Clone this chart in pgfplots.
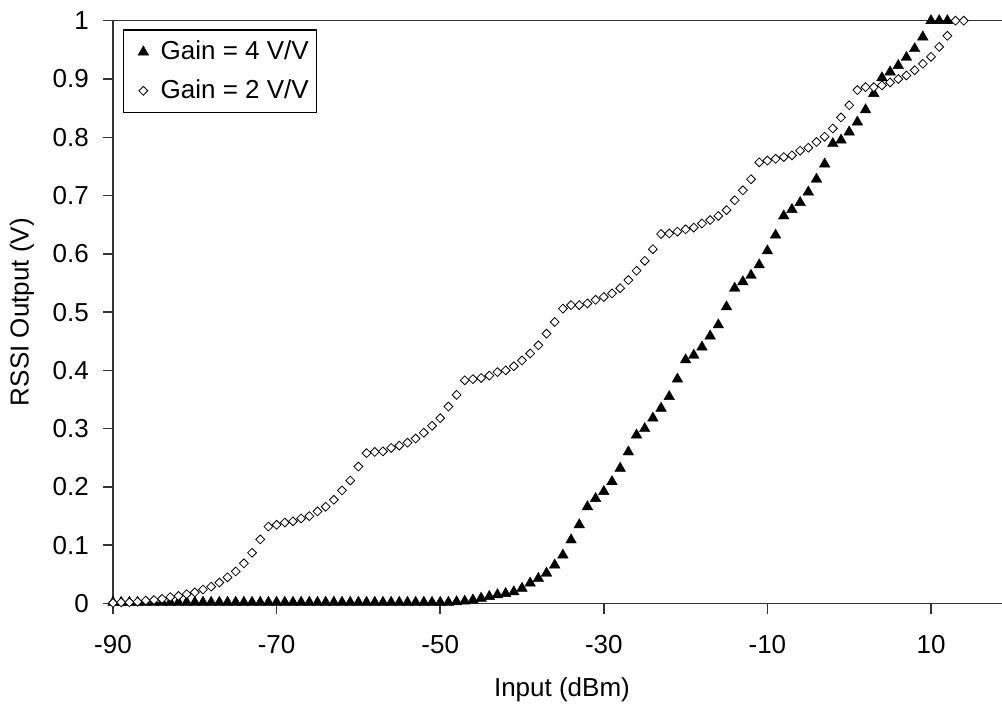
\documentclass[border=0pt]{standalone}
\usepackage{pgfplots}
\pgfplotsset{compat=1.18}
\usepackage{fontspec}
\setmainfont{Liberation Sans}
\pgfplotstableread{
x y
-90 0.002
-89 0.002
-88 0.002
-87 0.002
-86 0.002
-85 0.002
-84 0.002
-83 0.002
-82 0.002
-81 0.002
-80 0.002
-79 0.002
-78 0.002
-77 0.002
-76 0.002
-75 0.002
-74 0.002
-73 0.002
-72 0.002
-71 0.002
-70 0.002
-69 0.002
-68 0.002
-67 0.002
-66 0.002
-65 0.002
-64 0.002
-63 0.002
-62 0.002
-61 0.002
-60 0.002
-59 0.002
-58 0.002
-57 0.002
-56 0.002
-55 0.002
-54 0.002
-53 0.002
-52 0.002
-51 0.002
-50 0.002
-49 0.002
-48 0.003
-47 0.004
-46 0.006
-45 0.009
-44 0.012
-43 0.015
-42 0.017
-41 0.020
-40 0.026
-39 0.035
-38 0.043
-37 0.052
-36 0.066
-35 0.083
-34 0.109
-33 0.135
-32 0.166
-31 0.180
-30 0.192
-29 0.209
-28 0.232
-27 0.260
-26 0.289
-25 0.300
-24 0.318
-23 0.335
-22 0.355
-21 0.385
-20 0.418
-19 0.426
-18 0.440
-17 0.459
-16 0.478
-15 0.509
-14 0.541
-13 0.552
-12 0.563
-11 0.581
-10 0.605
-9 0.632
-8 0.665
-7 0.676
-6 0.688
-5 0.706
-4 0.728
-3 0.754
-2 0.789
-1 0.795
0 0.809
1 0.826
2 0.847
3 0.875
4 0.902
5 0.912
6 0.923
7 0.937
8 0.952
9 0.972
10 1.000
11 1.000
12 1.000
}\gainfour
\pgfplotstableread{
x y
-90 0.001
-89 0.002
-88 0.002
-87 0.003
-86 0.005
-85 0.006
-84 0.008
-83 0.011
-82 0.013
-81 0.016
-80 0.019
-79 0.024
-78 0.029
-77 0.036
-76 0.045
-75 0.055
-74 0.069
-73 0.087
-72 0.110
-71 0.132
-70 0.135
-69 0.139
-68 0.141
-67 0.146
-66 0.150
-65 0.158
-64 0.166
-63 0.178
-62 0.194
-61 0.211
-60 0.235
-59 0.258
-58 0.260
-57 0.261
-56 0.267
-55 0.271
-54 0.276
-53 0.283
-52 0.293
-51 0.305
-50 0.318
-49 0.338
-48 0.358
-47 0.383
-46 0.385
-45 0.387
-44 0.391
-43 0.397
-42 0.400
-41 0.407
-40 0.417
-39 0.429
-38 0.443
-37 0.463
-36 0.483
-35 0.506
-34 0.512
-33 0.512
-32 0.515
-31 0.521
-30 0.526
-29 0.532
-28 0.541
-27 0.555
-26 0.571
-25 0.588
-24 0.608
-23 0.634
-22 0.635
-21 0.638
-20 0.642
-19 0.645
-18 0.652
-17 0.658
-16 0.665
-15 0.675
-14 0.692
-13 0.709
-12 0.728
-11 0.757
-10 0.760
-9 0.763
-8 0.766
-7 0.769
-6 0.777
-5 0.782
-4 0.792
-3 0.801
-2 0.815
-1 0.834
0 0.855
1 0.881
2 0.886
3 0.886
4 0.889
5 0.894
6 0.900
7 0.906
8 0.915
9 0.926
10 0.938
11 0.955
12 0.974
13 1.000
14 1.000
}\gaintwo
\begin{document}
\fontsize{19.5}{23.4}\selectfont
\begin{tikzpicture}
\useasboundingbox (-84.75pt,-75.375pt) rectangle (666.75pt,452.625pt);
\begin{axis}[
  at={(0pt,0pt)}, anchor=south west,
  scale only axis, width=666.75pt, height=437.1pt,
  xmin=-90, xmax=18.68, ymin=0, ymax=1,
  axis x line*=bottom, axis y line*=left,
  axis line style={-, black!80, line width=1.1pt},
  tick align=outside, major tick length=7.5pt,
  tick style={black!80, line width=1.1pt},
  xtick={-90,-70,-50,-30,-10,10},
  xticklabels={-90,-70,-50,-30,-10,10},
  ytick={0,0.1,0.2,0.3,0.4,0.5,0.6,0.7,0.8,0.9,1},
  yticklabels={0,0.1,0.2,0.3,0.4,0.5,0.6,0.7,0.8,0.9,1},
  ticklabel style={font=\fontsize{19.5}{23.4}\selectfont, text=black},
  xticklabel style={yshift=-10pt},
  yticklabel style={xshift=-4pt},
  label style={font=\fontsize{19.5}{23.4}\selectfont, text=black},
  xlabel={Input (dBm)},
  ylabel={RSSI Output (V)},
  xlabel style={at={(axis description cs:0.505,0)}, anchor=center, yshift=-64.9pt},
  ylabel style={at={(axis description cs:-0.1024,0.5)}, anchor=center, rotate=0},
  clip=false,
  legend cell align=left,
  legend image code/.code={\path[draw=none, fill=none] (0pt,-1pt) rectangle (22pt,1pt); \draw[#1] plot coordinates {(12pt,0pt)};},
  legend style={at={(axis description cs:0.0109,0.9852)}, anchor=north west,
    draw=black, line width=1pt, font=\fontsize{19.5}{23.4}\selectfont,
    inner xsep=3pt, inner ysep=2.5pt, row sep=1pt,
    nodes={inner xsep=3pt, inner ysep=5.5pt}},
]
\addplot[only marks, mark=triangle*, mark size=4.6pt,
  mark options={fill=black, draw=black, line width=0.3pt}] table[x=x,y=y] {\gainfour};
\addlegendentry{Gain = 4 V/V}
\addplot[only marks, mark=square*, mark size=2.35pt,
  mark options={rotate=45, fill=white, draw=black, line width=0.6pt}] table[x=x,y=y] {\gaintwo};
\addlegendentry{Gain = 2 V/V}
\draw[black!80, line width=1.1pt] (rel axis cs:0,1) -- (rel axis cs:1,1);
\end{axis}
\end{tikzpicture}
\end{document}
